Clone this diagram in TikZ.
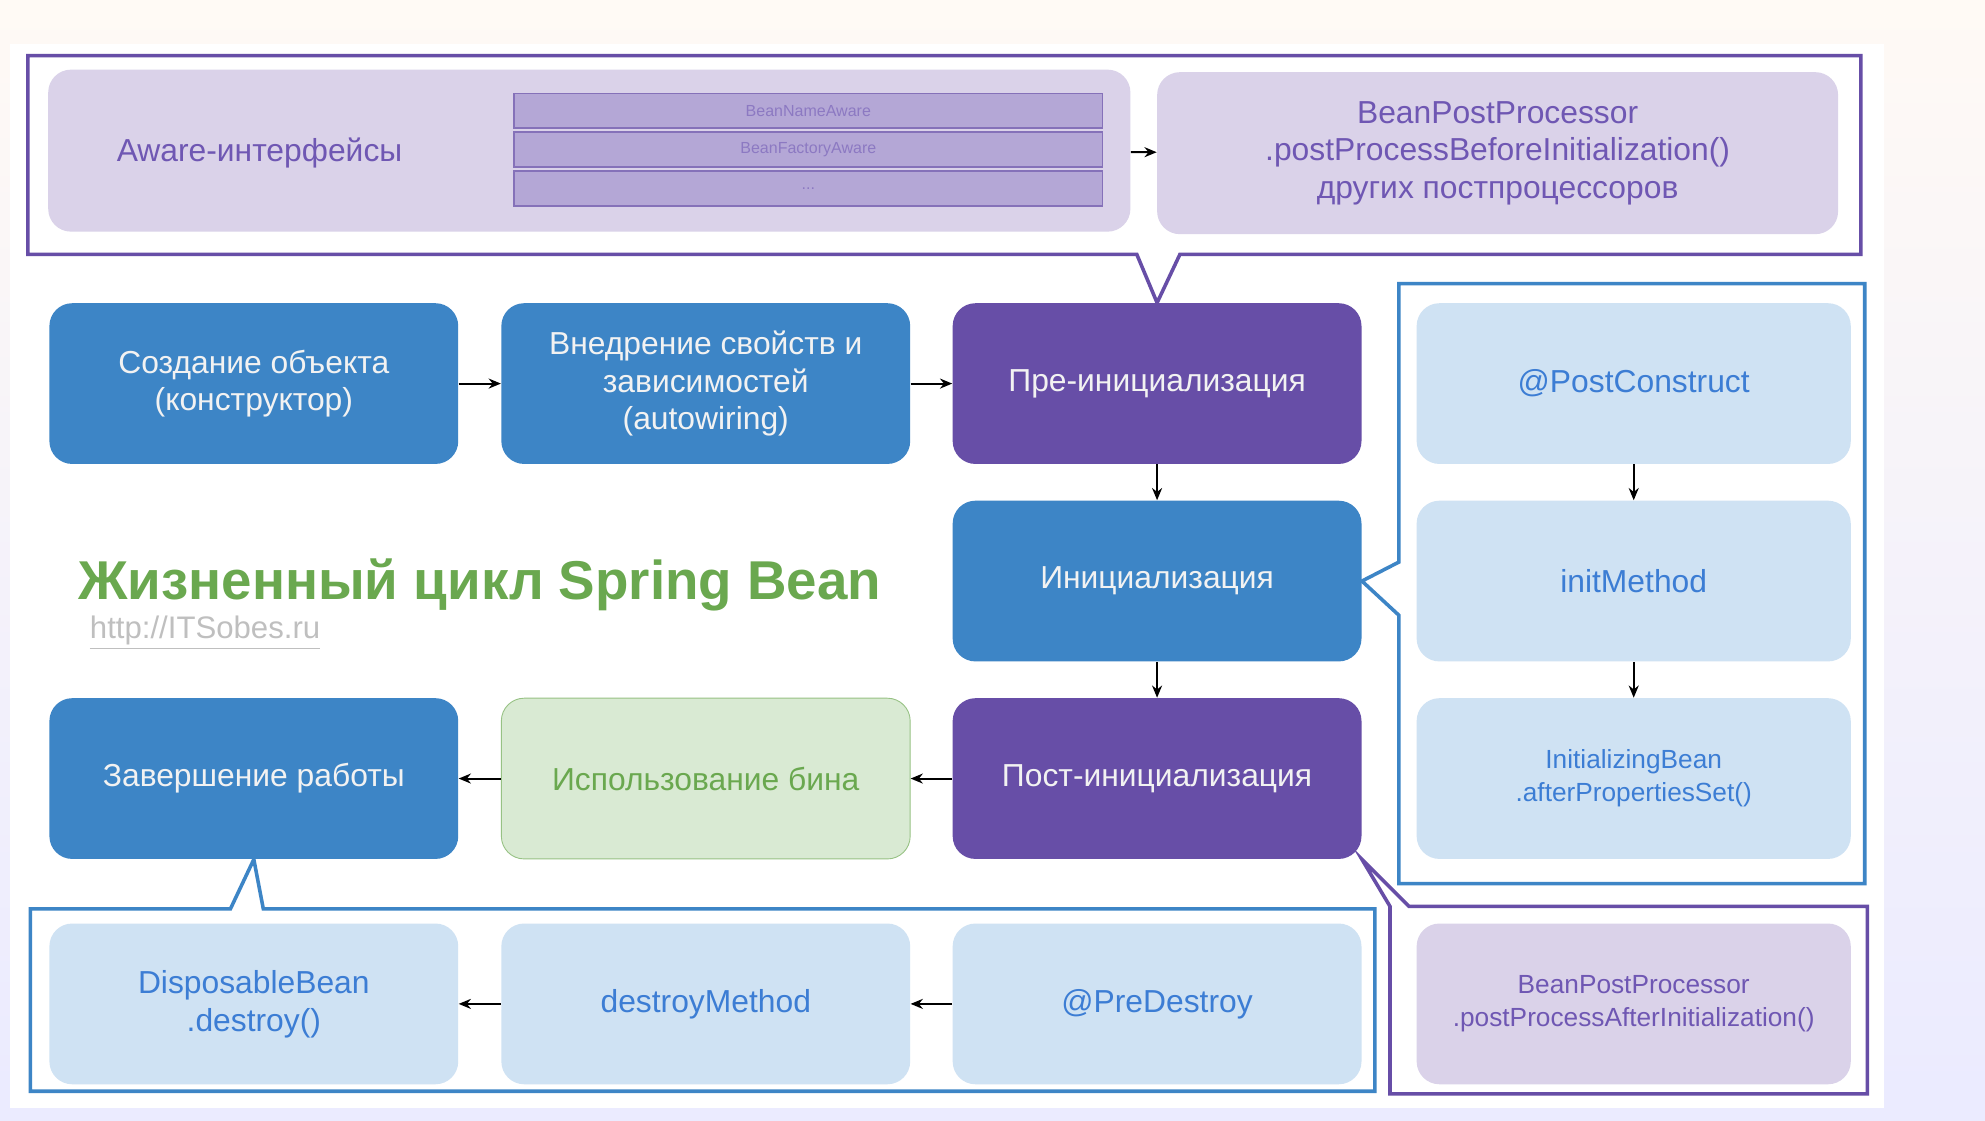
\documentclass[tikz,border=0pt]{standalone}
\usepackage{fontspec}
\setmainfont{Liberation Sans}
\usetikzlibrary{arrows.meta}
\definecolor{blu}{HTML}{3D85C6}
\definecolor{pur}{HTML}{674EA7}
\definecolor{lav}{HTML}{DAD2E9}
\definecolor{lblu}{HTML}{CFE2F3}
\definecolor{lgrn}{HTML}{D9EAD3}
\definecolor{grn}{HTML}{6AA84F}
\definecolor{strip}{HTML}{B4A7D6}
\definecolor{ptxt}{HTML}{6F57B3}
\definecolor{btxt}{HTML}{3C7DD4}

\begin{document}
\begin{tikzpicture}[x=0.02cm, y=-0.02cm, >={Stealth[length=5.5pt, width=4.5pt]},
	box/.style = {rounded corners=0.36cm, minimum width=6.46cm, minimum height=2.54cm, align=center, inner sep=2pt, font=\fontsize{14.3}{17}\selectfont},
	dark/.style = {box, fill=blu, text=white!95!black},
	darkp/.style = {box, fill=pur, text=white!95!black},
	light/.style = {box, fill=lblu, text=btxt},
	side/.style = {light, minimum width=6.86cm},
	lavbox/.style = {box, fill=lav, text=ptxt},
	stripbox/.style = {draw=pur!80, line width=0.7pt, fill=strip, text=ptxt!80, minimum width=9.3cm, minimum height=0.55cm, inner sep=0pt, font=\fontsize{7.2}{8}\selectfont},
	frame/.style = {line width=1.6pt, line join=miter},
	link/.style = {->, line width=0.9pt}]
	\useasboundingbox (0,0) rectangle (1568,885);
	\shade[top color=orange!4, bottom color=blue!8] (0,0) rectangle (1568,885);
	\fill[white] (8,35) rectangle (1488,875);

	\node[lavbox, minimum width=17.1cm, minimum height=2.56cm] (aware) at (465.5,119) {};
	\node[text=ptxt, font=\fontsize{14.3}{17}\selectfont] (awaretxt) at (205,121) {Aware-интерфейсы};
	\node[stripbox] (s1) at (638.5,87.5) {BeanNameAware};
	\node[stripbox] (s2) at (638.5,118) {BeanFactoryAware};
	\node[stripbox] (s3) at (638.5,149) {...};
	\node[lavbox, minimum width=10.76cm, minimum height=2.56cm] (before) at (1183,121) {BeanPostProcessor\\.postProcessBeforeInitialization()\\других постпроцессоров};

	\node[dark] (create) at (200.5,303) {Создание объекта\\(конструктор)};
	\node[dark] (inject) at (557.5,303) {Внедрение свойств и\\зависимостей\\(autowiring)};
	\node[darkp] (preinit) at (914,303) {Пре-инициализация};
	\node[dark] (init) at (914,459) {Инициализация};
	\node[darkp] (postinit) at (914,615) {Пост-инициализация};
	\node[box, fill=lgrn, draw=grn!70, text=grn] (use) at (557.5,615) {Использование бина};
	\node[dark] (finish) at (200.5,615) {Завершение работы};

	\node[text=grn, font=\fontsize{24.6}{28}\selectfont\bfseries] (title) at (379,462) {Жизненный цикл Spring Bean};
	\node[text=black!25, font=\fontsize{14}{16}\selectfont] (url) at (162,500) {\underline{http://ITSobes.ru}};

	\node[side] (postc) at (1290.5,303) {@PostConstruct};
	\node[side] (initm) at (1290.5,459) {initMethod};
	\node[side, font=\fontsize{11.8}{14.8}\selectfont] (initb) at (1290.5,615) {InitializingBean\\.afterPropertiesSet()};
	\node[lavbox, minimum width=6.86cm, font=\fontsize{11.8}{14.8}\selectfont] (after) at (1290.5,793) {BeanPostProcessor\\.postProcessAfterInitialization()};

	\node[light] (dispose) at (200.5,793) {DisposableBean\\.destroy()};
	\node[light] (destroym) at (557.5,793) {destroyMethod};
	\node[light] (predestroy) at (914,793) {@PreDestroy};

	\draw[frame, pur] (22,44) -- (1470,44) -- (1470,201) -- (932,201) -- (preinit.north) -- (898,201) -- (22,201) -- cycle;
	\draw[frame, blu] (1105,224) -- (1473,224) -- (1473,698) -- (1105,698) -- (1105,486) -- (init.east) -- (1105,444) -- cycle;
	\draw[frame, blu] (24,718) -- (182,718) -- (finish.south) -- (208,718) -- (1086,718) -- (1086,862) -- (24,862) -- cycle;
	\draw[frame, pur] (postinit.south east) -- (1113,716) -- (1475,716) -- (1475,864) -- (1098,864) -- (1098,716) -- cycle;

	\draw[link] (aware) -- (before);
	\draw[link] (create) -- (inject);
	\draw[link] (inject) -- (preinit);
	\draw[link] (preinit) -- (init);
	\draw[link] (init) -- (postinit);
	\draw[link] (postinit) -- (use);
	\draw[link] (use) -- (finish);
	\draw[link] (postc) -- (initm);
	\draw[link] (initm) -- (initb);
	\draw[link] (predestroy) -- (destroym);
	\draw[link] (destroym) -- (dispose);
\end{tikzpicture}
\end{document}
